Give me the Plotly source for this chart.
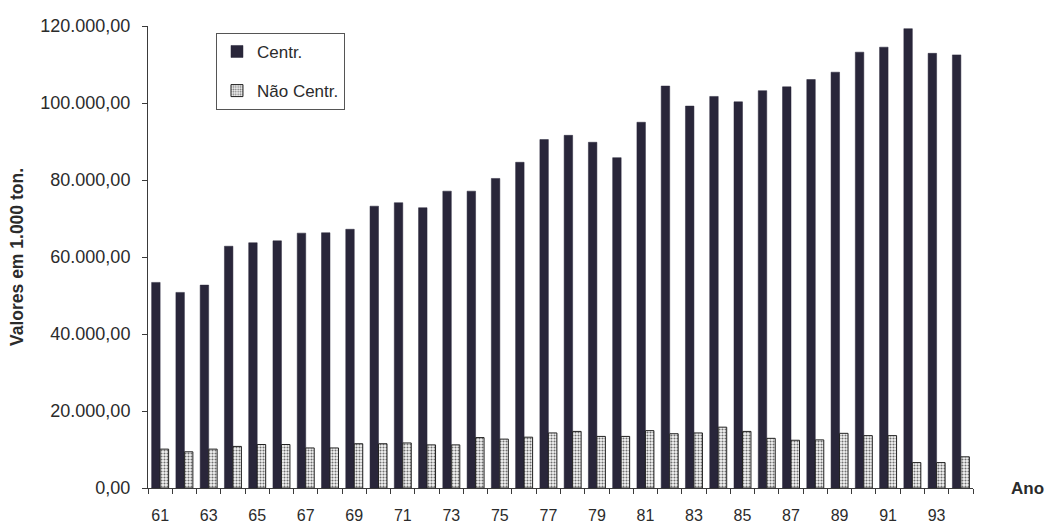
import plotly.graph_objects as go

# Years 1961-1994 (two-digit labels) and values in 1.000 ton.
anos = list(range(61, 95))
centr = [53.4, 50.8, 52.7, 62.8, 63.7, 64.2, 66.2, 66.3, 67.2, 73.2,
         74.1, 72.8, 77.1, 77.1, 80.4, 84.6, 90.5, 91.6, 89.8, 85.8,
         95.0, 104.4, 99.2, 101.7, 100.3, 103.2, 104.2, 106.1, 108.0, 113.2,
         114.5, 119.3, 112.9, 112.5]
nao_centr = [10.1, 9.4, 10.1, 10.8, 11.3, 11.3, 10.4, 10.4, 11.5, 11.5,
             11.7, 11.2, 11.2, 13.1, 12.7, 13.2, 14.3, 14.7, 13.4, 13.4,
             14.9, 14.1, 14.3, 15.8, 14.7, 12.9, 12.4, 12.5, 14.2, 13.6,
             13.6, 6.6, 6.6, 8.1]
centr = [v * 1000 for v in centr]
nao_centr = [v * 1000 for v in nao_centr]

y_ticks = [0, 20000, 40000, 60000, 80000, 100000, 120000]
x_tick_anos = list(range(61, 95, 2))


def fmt_br(v):
    s = f"{v:,.2f}"
    return s.replace(",", "X").replace(".", ",").replace("X", ".")


FONT = "Liberation Sans, Arial, sans-serif"
DARK = "#29263a"
AXIS = "#3a3a3a"
TXT = "#2b2b2b"

fig = go.Figure()
fig.add_trace(go.Bar(
    x=anos, y=centr, name="Centr.", legendgroup="a",
    marker=dict(color=DARK, line=dict(color=DARK, width=0.5)),
))
fig.add_trace(go.Bar(
    x=anos, y=nao_centr, name="Não Centr.", legendgroup="b",
    marker=dict(
        color="white",
        line=dict(color="#222222", width=1),
        pattern=dict(shape=".", size=3, solidity=0.4,
                     fgcolor="#707070", bgcolor="#f6f6f6"),
    ),
))

fig.update_layout(
    template="none",
    width=1045, height=524,
    margin=dict(l=148, r=72, t=26, b=36, autoexpand=False),
    paper_bgcolor="white", plot_bgcolor="white",
    barmode="group", bargap=0.3, bargroupgap=0.0,
    font=dict(family=FONT, color=TXT, size=16),
    showlegend=True,
    legend=dict(
        x=0.0824, y=0.985, xanchor="left", yanchor="top",
        bgcolor="white", bordercolor="#555555", borderwidth=1,
        font=dict(family=FONT, size=17, color=TXT),
        tracegroupgap=14, traceorder="grouped",
    ),
    xaxis=dict(
        automargin=False,
        range=[60.5, 94.5],
        tickmode="array", tickvals=x_tick_anos,
        ticktext=[str(a) for a in x_tick_anos],
        ticks="", ticklabelstandoff=13,
        tickfont=dict(family=FONT, size=16, color=TXT),
        showline=True, linecolor=AXIS, linewidth=1,
        showgrid=False, zeroline=False,
        minor=dict(tickmode="array",
                   tickvals=[a + 0.5 for a in range(60, 95)],
                   ticks="outside", ticklen=5, tickcolor=AXIS, tickwidth=1,
                   showgrid=False),
    ),
    yaxis=dict(
        automargin=False,
        range=[0, 120000],
        tickmode="array", tickvals=y_ticks,
        ticktext=[fmt_br(v) for v in y_ticks],
        ticks="outside", ticklen=5, tickcolor=AXIS, tickwidth=1,
        ticklabelstandoff=8,
        tickfont=dict(family=FONT, size=18, color=TXT),
        showline=True, linecolor=AXIS, linewidth=1,
        showgrid=False, zeroline=False,
        title=dict(text="<b>Valores em 1.000 ton.</b>",
                   font=dict(family=FONT, size=17.5, color=TXT),
                   standoff=12),
    ),
    annotations=[dict(
        text="<b>Ano</b>", xref="paper", yref="paper",
        x=1.0 + (1027 - 973) / 825.0, y=0.0, xanchor="center", yanchor="middle",
        showarrow=False, font=dict(family=FONT, size=17, color=TXT),
    )],
)

fig.write_html("out.html")
